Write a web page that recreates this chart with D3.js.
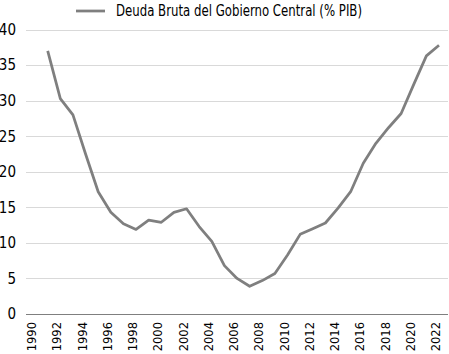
<!DOCTYPE html>
<html>
<head>
<meta charset="utf-8">
<script src="https://cdn.jsdelivr.net/npm/d3@7"></script>
<style>
  body { margin: 0; background: #fff; }
  svg { display: block; }
</style>
</head>
<body>
<div id="chart"></div>
<script>
// données
var years = [1991, 1992, 1993, 1994, 1995, 1996, 1997, 1998, 1999, 2000, 2001,
  2002, 2003, 2004, 2005, 2006, 2007, 2008, 2009, 2010, 2011, 2012, 2013,
  2014, 2015, 2016, 2017, 2018, 2019, 2020, 2021, 2022];
var debt = [37.0, 30.3, 28.0, 22.5, 17.2, 14.3, 12.7, 11.9, 13.2, 12.9, 14.3,
  14.8, 12.3, 10.2, 6.8, 5.0, 3.9, 4.7, 5.7, 8.3, 11.2, 12.0, 12.8,
  14.9, 17.2, 21.2, 24.0, 26.2, 28.2, 32.3, 36.3, 37.8];
var yTicks = [0, 5, 10, 15, 20, 25, 30, 35, 40];
var xLabels = d3.range(1990, 2023, 2);
var legendLabel = "Deuda Bruta del Gobierno Central (% PIB)";

var width = 449, height = 354;
var left = 26, right = 448;

var svg = d3.select("#chart").append("svg")
  .attr("width", width)
  .attr("height", height);

var x = d3.scaleLinear().domain([1991, 2022]).range([47.7, 439]);
var y = d3.scaleLinear().domain([0, 40]).range([314, 29.6]);

// grille horizontale
svg.append("g")
  .selectAll("line")
  .data(yTicks.filter(function(d) { return d > 0; }))
  .enter()
  .append("line")
  .attr("x1", left)
  .attr("x2", right)
  .attr("y1", function(d) { return Math.round(y(d)) + 0.5; })
  .attr("y2", function(d) { return Math.round(y(d)) + 0.5; })
  .attr("stroke", "#d9d9d9")
  .attr("stroke-width", 1);

// axe du zéro
svg.append("line")
  .attr("x1", left)
  .attr("x2", right)
  .attr("y1", Math.round(y(0)) + 0.5)
  .attr("y2", Math.round(y(0)) + 0.5)
  .attr("stroke", "#7f7f7f")
  .attr("stroke-width", 1);

// étiquettes de l'axe y
svg.append("g")
  .selectAll("text")
  .data(yTicks)
  .enter()
  .append("text")
  .attr("x", 16)
  .attr("y", function(d) { return y(d); })
  .attr("dy", "0.35em")
  .attr("text-anchor", "end")
  .style("font-family", "'Liberation Sans Narrow', 'DejaVu Sans Condensed', sans-serif")
  .style("font-size", "15px")
  .style("fill", "#000")
  .text(function(d) { return d; });

// étiquettes de l'axe x (verticales)
svg.append("g")
  .selectAll("text")
  .data(xLabels)
  .enter()
  .append("text")
  .attr("transform", function(d) {
    return "translate(" + (x(d) - 3) + ",322) rotate(-90)";
  })
  .attr("dy", "0.35em")
  .attr("text-anchor", "end")
  .style("font-family", "'DejaVu Sans', sans-serif")
  .style("font-size", "11.5px")
  .style("fill", "#000")
  .text(function(d) { return d; });

// la courbe
var line = d3.line()
  .x(function(d, i) { return x(years[i]); })
  .y(function(d) { return y(d); });

svg.append("path")
  .datum(debt)
  .attr("d", line)
  .attr("fill", "none")
  .attr("stroke", "#7f7f7f")
  .attr("stroke-width", 2.75)
  .attr("stroke-linejoin", "round");

// légende
var legend = svg.append("g");
legend.append("line")
  .attr("x1", 76)
  .attr("x2", 105)
  .attr("y1", 11)
  .attr("y2", 11)
  .attr("stroke", "#7f7f7f")
  .attr("stroke-width", 2.75);
legend.append("text")
  .attr("x", 116)
  .attr("y", 11)
  .attr("dy", "0.35em")
  .attr("textLength", 246)
  .attr("lengthAdjust", "spacingAndGlyphs")
  .style("font-family", "'Liberation Sans Narrow', 'DejaVu Sans Condensed', sans-serif")
  .style("font-size", "15px")
  .style("fill", "#000")
  .text(legendLabel);
</script>
</body>
</html>
